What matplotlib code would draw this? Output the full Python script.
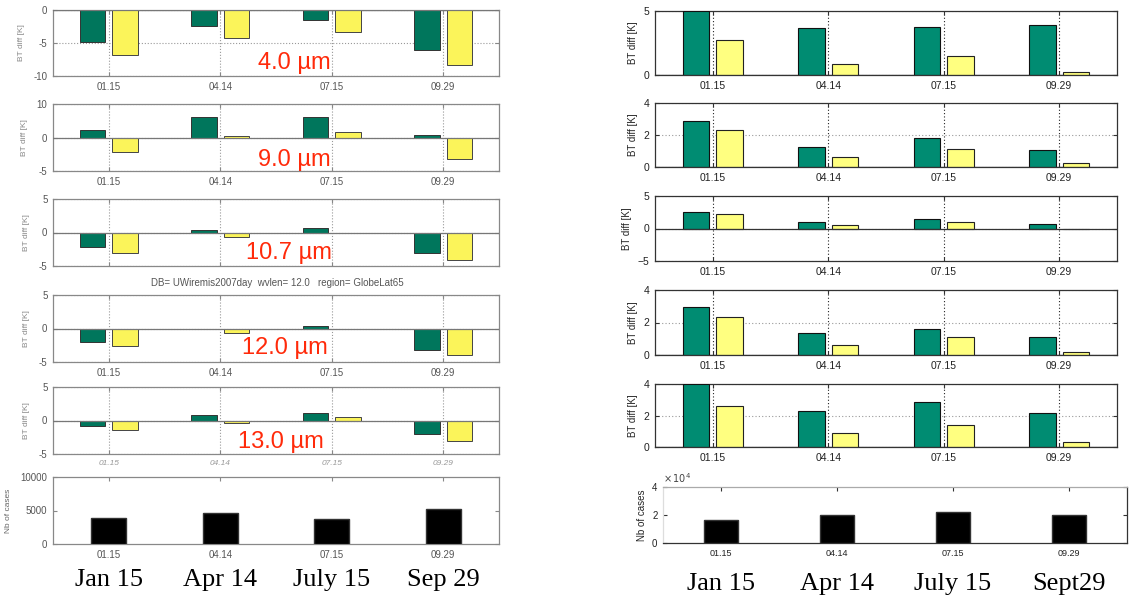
import matplotlib.pyplot as plt
import numpy as np

W, H = 1130, 599

dates = ['01.15', '04.14', '07.15', '09.29']
left_big = ['Jan 15', 'Apr 14', 'July 15', 'Sep 29']
right_big = ['Jan 15', 'Apr 14', 'July 15', 'Sept29']
wavelengths = ['4.0 µm', '9.0 µm', '10.7 µm', '12.0 µm', '13.0 µm']

# left column: BT diff [K], green / yellow series per wavelength
left_green = [
    [-4.85, -2.4, -1.5, -6.0],
    [1.15, 3.1, 3.1, 0.35],
    [-2.15, 0.35, 0.7, -3.1],
    [-2.0, 0.0, 0.35, -3.25],
    [-0.75, 0.75, 1.1, -1.95],
]
left_yellow = [
    [-6.8, -4.3, -3.4, -8.4],
    [-2.1, 0.25, 0.75, -3.2],
    [-3.0, -0.65, 0.0, -4.15],
    [-2.55, -0.6, 0.0, -4.0],
    [-1.45, -0.3, 0.55, -3.0],
]
left_cases = [3900, 4700, 3760, 5200]

# right column
right_green = [
    [5.0, 3.67, 3.77, 3.9],
    [2.87, 1.25, 1.81, 1.06],
    [2.6, 0.93, 1.4, 0.66],
    [2.93, 1.38, 1.63, 1.09],
    [4.0, 2.29, 2.84, 2.18],
]
right_yellow = [
    [2.7, 0.83, 1.5, 0.26],
    [2.33, 0.6, 1.12, 0.25],
    [2.3, 0.5, 0.93, 0.0],
    [2.31, 0.6, 1.09, 0.19],
    [2.6, 0.87, 1.4, 0.32],
]
right_cases = [16400, 20200, 22100, 20200]

left_ylims = [(-10, 0), (-5, 5), (-5, 5), (-5, 5), (-5, 5)]
left_yticks = [[-10, -5, 0], [-5, 0, 5], [-5, 0, 5], [-5, 0, 5], [-5, 0, 5]]
left_yticklabels = [['-10', '-5', '0'], ['-5', '0', '10'], ['-5', '0', '5'],
                    ['-5', '0', '5'], ['-5', '0', '5']]
right_ylims = [(0, 5), (0, 4), (-5, 5), (0, 4), (0, 4)]
right_yticks = [[0, 5], [0, 2, 4], [-5, 0, 5], [0, 2, 4], [0, 2, 4]]

left_rows = [(10, 76), (104, 171), (199, 266), (295, 362), (387, 454)]
right_rows = [(11, 75), (103, 167), (196, 261), (290, 355), (384, 447)]
# where the red wavelength label sits inside each left panel (axes fraction)
label_pos = [(0.54, 0.20), (0.54, 0.16), (0.53, 0.19), (0.52, 0.21), (0.51, 0.18)]

plt.rcParams['font.family'] = ['Liberation Sans', 'DejaVu Sans']

fig = plt.figure(figsize=(W / 100, H / 100), dpi=100)


def add_ax(x0, y0, x1, y1):
    return fig.add_axes([x0 / W, 1 - y1 / H, (x1 - x0) / W, (y1 - y0) / H])


x = np.arange(1, 5)
bw = 0.23
off = 0.145

L_GREEN, L_YEL = '#00765c', '#fbf45a'
R_GREEN, R_YEL = '#008c72', '#ffff80'


def style(ax, spine_col, tick_col, fs=7):
    ax.set_xlim(0.5, 4.5)
    ax.set_xticks(x)
    ax.tick_params(direction='in', length=3, top=True, right=True,
                   labelsize=fs, colors=spine_col, labelcolor=tick_col, pad=4)
    for s in ax.spines.values():
        s.set_color(spine_col)
        s.set_linewidth(0.9)


# ---- left column ----
for i in range(5):
    y0, y1 = left_rows[i]
    ax = add_ax(53, y0, 499, y1)
    ax.bar(x - off, left_green[i], bw, color=L_GREEN, edgecolor='#333333', linewidth=0.7, zorder=3)
    ax.bar(x + off, left_yellow[i], bw, color=L_YEL, edgecolor='#444444', linewidth=0.7, zorder=3)
    ax.axhline(0, color='#777777', linewidth=0.9, zorder=4)
    ax.set_ylim(*left_ylims[i])
    ax.set_yticks(left_yticks[i])
    ax.set_yticklabels(left_yticklabels[i])
    style(ax, '#888888', '#555555')
    ax.grid(True, linestyle=':', color='#999999', linewidth=0.8, zorder=0)
    ax.set_xticklabels(dates)
    if i == 2:
        ax.set_xticklabels([])
    if i == 4:
        ax.set_xticklabels(dates, fontsize=6, style='italic', color='#999999')
    ax.set_ylabel('BT diff [K]', fontsize=6, color='#888888', labelpad=6)
    lx, ly = label_pos[i]
    ax.text(lx, ly, wavelengths[i], transform=ax.transAxes, ha='center', va='center',
            fontsize=17, color='#ff2a0a', zorder=6)

fig.text(277 / W, 1 - 283 / H, 'DB= UWiremis2007day  wvlen= 12.0   region= GlobeLat65',
         ha='center', va='center', fontsize=7, color='#555555')

ax = add_ax(53, 477, 499, 544)
ax.bar(x, left_cases, 0.31, color='black', edgecolor='#333333', zorder=3)
ax.set_ylim(0, 10000)
ax.set_yticks([0, 5000, 10000])
style(ax, '#888888', '#555555')
ax.set_xticklabels(dates)
ax.set_ylabel('Nb of cases', fontsize=6, color='#666666', labelpad=6)
for xi, lab in zip(x, left_big):
    ax.annotate(lab, (xi, 0), xycoords=('data', 'axes fraction'), xytext=(0, -36),
                textcoords='offset pixels', ha='center', va='center',
                fontsize=19, family='Liberation Serif', color='black')

# ---- right column ----
for i in range(5):
    y0, y1 = right_rows[i]
    ax = add_ax(655, y0, 1117, y1)
    ax.bar(x - off, right_green[i], bw, color=R_GREEN, edgecolor='#111111', linewidth=0.8, zorder=3)
    ax.bar(x + off, right_yellow[i], bw, color=R_YEL, edgecolor='#222222', linewidth=0.8, zorder=3)
    ax.axhline(0, color='#333333', linewidth=0.9, zorder=4)
    ax.set_ylim(*right_ylims[i])
    ax.set_yticks(right_yticks[i])
    style(ax, '#333333', '#222222', fs=7.5)
    ax.grid(True, axis='x', linestyle=(0, (1, 2)), color='#222222', linewidth=0.8, zorder=0)
    ax.grid(True, axis='y', linestyle=(0, (1, 2)), color='#999999', linewidth=0.8, zorder=0)
    ax.set_xticklabels(dates)
    ax.set_ylabel('BT diff [K]', fontsize=7, color='#222222', labelpad=4)

ax = add_ax(663, 487, 1127, 543)
ax.bar(x, right_cases, 0.3, color='black', edgecolor='#333333', zorder=3)
ax.set_ylim(0, 40000)
ax.set_yticks([0, 20000, 40000])
ax.set_yticklabels(['0', '2', '4'])
style(ax, '#333333', '#222222', fs=7)
ax.spines['top'].set_color('#aaaaaa')
ax.spines['left'].set_color('#dddddd')
ax.set_xticklabels(dates, fontsize=6.5)
ax.set_ylabel('Nb of cases', fontsize=7, color='#222222', labelpad=4)
ax.text(0.0, 1.04, r'$\times\,10^{4}$', transform=ax.transAxes, fontsize=7,
        color='#444444', ha='left', va='bottom')
for xi, lab in zip(x, right_big):
    ax.annotate(lab, (xi, 0), xycoords=('data', 'axes fraction'), xytext=(0, -41),
                textcoords='offset pixels', ha='center', va='center',
                fontsize=19, family='Liberation Serif', color='black')

fig.savefig('out.png', dpi=100)
